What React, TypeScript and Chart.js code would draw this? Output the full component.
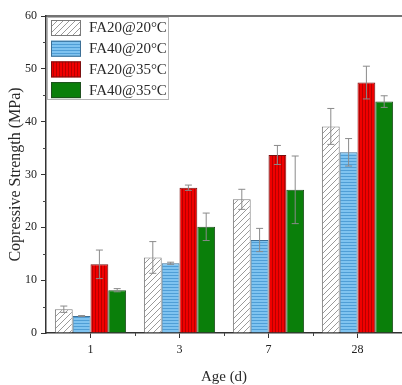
import React, { useEffect, useRef } from "react";
import { Chart, registerables } from "chart.js";

Chart.register(...registerables);

const categories = ["1", "3", "7", "28"];
const seriesLabels = ["FA20@20°C", "FA40@20°C", "FA20@35°C", "FA40@35°C"];
const fa20at20 = [4.5, 14.3, 25.3, 39.1];
const fa40at20 = [3.2, 13.2, 17.6, 34.2];
const fa20at35 = [13.0, 27.5, 33.7, 47.4];
const fa40at35 = [8.1, 20.1, 27.1, 43.8];
const fa20at20Err = [0.6, 3.0, 1.9, 3.4];
const fa40at20Err = [0.1, 0.2, 2.2, 2.6];
const fa20at35Err = [2.7, 0.5, 1.8, 3.1];
const fa40at35Err = [0.3, 2.6, 6.4, 1.1];
const yMin = 0;
const yMax = 60;
const yStep = 10;

const FONT = "'Liberation Serif', 'Times New Roman', serif";

function makePattern(kind: string): CanvasPattern | string {
  const c = document.createElement("canvas");
  const g = c.getContext("2d")!;
  if (kind === "hatch") {
    c.width = 6;
    c.height = 6;
    g.fillStyle = "#ffffff";
    g.fillRect(0, 0, 6, 6);
    g.strokeStyle = "#9a9a9a";
    g.lineWidth = 1;
    g.beginPath();
    g.moveTo(0, 6);
    g.lineTo(6, 0);
    g.moveTo(-1, 1);
    g.lineTo(1, -1);
    g.moveTo(5, 7);
    g.lineTo(7, 5);
    g.stroke();
  } else if (kind === "blue") {
    c.width = 1;
    c.height = 3;
    g.fillStyle = "#7fc3f0";
    g.fillRect(0, 0, 1, 3);
    g.fillStyle = "#4f9ed6";
    g.fillRect(0, 2, 1, 1);
  } else if (kind === "red") {
    c.width = 3;
    c.height = 1;
    g.fillStyle = "#f00000";
    g.fillRect(0, 0, 3, 1);
    g.fillStyle = "#b80000";
    g.fillRect(2, 0, 1, 1);
  } else {
    return "#0a7f0a";
  }
  return g.createPattern(c, "repeat")!;
}

const errorBarPlugin = {
  id: "errorBars",
  afterDatasetsDraw(chart: any) {
    const ctx = chart.ctx;
    const y = chart.scales.y;
    chart.data.datasets.forEach((ds: any, di: number) => {
      const meta = chart.getDatasetMeta(di);
      meta.data.forEach((bar: any, i: number) => {
        const v = ds.data[i];
        const e = ds.errors[i];
        const top = y.getPixelForValue(v + e);
        const bot = y.getPixelForValue(v - e);
        const x = bar.x;
        ctx.save();
        ctx.strokeStyle = "#8a8a8a";
        ctx.lineWidth = 1;
        ctx.beginPath();
        ctx.moveTo(x, top);
        ctx.lineTo(x, bot);
        ctx.moveTo(x - 3.5, top);
        ctx.lineTo(x + 3.5, top);
        ctx.moveTo(x - 3.5, bot);
        ctx.lineTo(x + 3.5, bot);
        ctx.stroke();
        ctx.restore();
      });
    });
  },
};

const framePlugin = {
  id: "frame",
  afterDraw(chart: any) {
    const ctx = chart.ctx;
    const a = chart.chartArea;
    const x = chart.scales.x;
    const y = chart.scales.y;
    ctx.save();
    ctx.strokeStyle = "#444";
    ctx.lineWidth = 1.5;
    ctx.beginPath();
    ctx.moveTo(a.left, a.top);
    ctx.lineTo(a.right, a.top);
    ctx.stroke();
    ctx.lineWidth = 1;
    ctx.beginPath();
    for (let v = yMin + yStep / 2; v < yMax; v += yStep) {
      const py = Math.round(y.getPixelForValue(v)) + 0.5;
      ctx.moveTo(a.left - 3, py);
      ctx.lineTo(a.left, py);
    }
    for (let i = 0; i < categories.length - 1; i++) {
      const px = Math.round((x.getPixelForValue(i) + x.getPixelForValue(i + 1)) / 2) + 0.5;
      ctx.moveTo(px, a.bottom);
      ctx.lineTo(px, a.bottom + 3);
    }
    ctx.stroke();

    // legend
    const lx = a.left + 1;
    const ly = a.top + 1;
    ctx.strokeStyle = "#b5b5b5";
    ctx.lineWidth = 1;
    ctx.strokeRect(lx + 0.5, ly + 0.5, 121, 82);
    ctx.font = `15px ${FONT}`;
    ctx.textBaseline = "middle";
    ctx.textAlign = "left";
    chart.data.datasets.forEach((ds: any, i: number) => {
      const by = ly + 3 + i * 20.7;
      ctx.fillStyle = ds.backgroundColor;
      ctx.fillRect(lx + 4, by, 30, 16);
      ctx.strokeStyle = ds.borderColor;
      ctx.strokeRect(lx + 4.5, by + 0.5, 29, 15);
      ctx.fillStyle = "#2a2a2a";
      ctx.fillText(ds.label, lx + 42, by + 8.5);
    });
    ctx.restore();
  },
};

export default function App() {
  const ref = useRef<HTMLCanvasElement>(null);
  useEffect(() => {
    const fills = [makePattern("hatch"), makePattern("blue"), makePattern("red"), makePattern("green")];
    const borders = ["#7a7a7a", "#3d6f95", "#7a1010", "#1f4f1f"];
    const values = [fa20at20, fa40at20, fa20at35, fa40at35];
    const errs = [fa20at20Err, fa40at20Err, fa20at35Err, fa40at35Err];
    const chart = new Chart(ref.current!, {
      type: "bar",
      data: {
        labels: categories,
        datasets: seriesLabels.map((label, i) => ({
          label,
          data: values[i],
          errors: errs[i],
          backgroundColor: fills[i] as any,
          borderColor: borders[i],
          borderWidth: 1,
          categoryPercentage: 0.8,
          barPercentage: 1.0,
        })) as any,
      },
      options: {
        responsive: false,
        animation: false,
        devicePixelRatio: 1,
        layout: { padding: { top: 16, right: -3, left: 0, bottom: 0 } },
        plugins: { legend: { display: false }, tooltip: { enabled: false } },
        scales: {
          x: {
            offset: true,
            grid: { display: true, drawOnChartArea: false, drawTicks: true, tickLength: 5, offset: false, color: "#333" },
            border: { display: true, color: "#333", width: 1.5 },
            ticks: { color: "#222", font: { family: FONT, size: 12 }, padding: 5 },
            title: {
              display: true,
              text: "Age (d)",
              color: "#2a2a2a",
              font: { family: FONT, size: 15, lineHeight: 1 },
              padding: { top: 0, bottom: 0 },
            },
            afterFit(scale: any) {
              scale.height = 52;
            },
          },
          y: {
            min: yMin,
            max: yMax,
            grid: { display: true, drawOnChartArea: false, drawTicks: true, tickLength: 5, color: "#333" },
            border: { display: true, color: "#333", width: 1.5 },
            ticks: { stepSize: yStep, color: "#222", font: { family: FONT, size: 12 }, padding: 4 },
            title: {
              display: true,
              text: "Copressive Strength (MPa)",
              color: "#2a2a2a",
              font: { family: FONT, size: 16 },
              padding: { top: 6, bottom: 0 },
            },
            afterFit(scale: any) {
              scale.width = 46;
            },
          },
        },
      } as any,
      plugins: [errorBarPlugin, framePlugin],
    });
    return () => chart.destroy();
  }, []);
  return (
    <div style={{ position: "absolute", left: 0, top: 0, width: 402, height: 385, background: "#fff" }}>
      <canvas ref={ref} width={402} height={385} />
    </div>
  );
}
